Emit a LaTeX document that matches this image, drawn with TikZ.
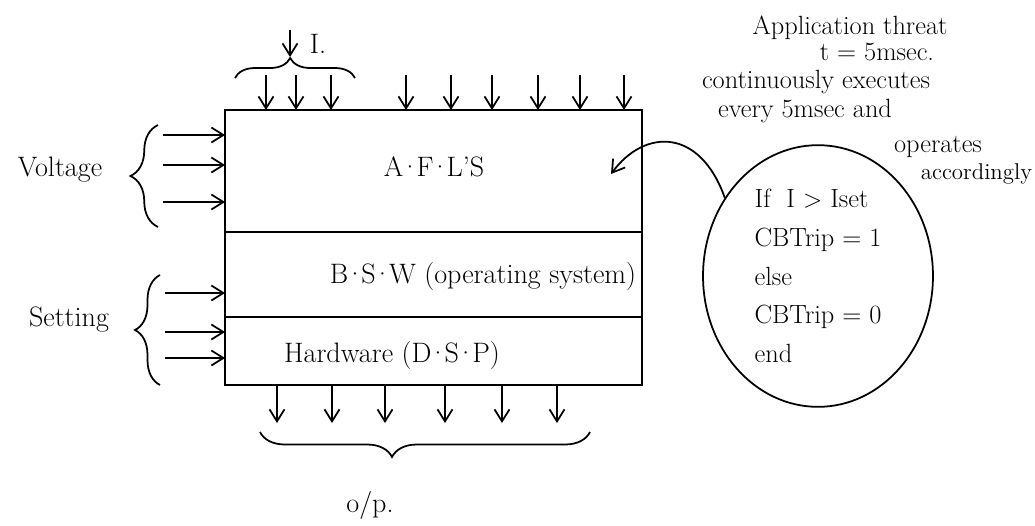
\documentclass[tikz,border=0pt]{standalone}
\usetikzlibrary{positioning,shapes.geometric,arrows.meta,decorations.pathreplacing}
\newcommand{\mdot}{\kern-2pt·\kern-2pt}
\begin{document}
\begin{tikzpicture}[x=0.02cm, y=-0.02cm, line width=1pt,
  >={Straight Barb[length=2.4mm,width=3mm]},
  hand/.style={font=\fontsize{16}{19}\selectfont, inner sep=1pt},
  note/.style={font=\fontsize{15}{18}\selectfont, inner sep=0pt, anchor=base},
  layer/.style={draw, minimum width=8.34cm, inner sep=0pt, outer sep=0pt},
  curly/.style={decorate, decoration={brace, amplitude=#1}}]
\useasboundingbox (0,0) rectangle (1035,525);

\node[layer, minimum height=2.44cm] (afl) at (433.5,171) {};
\node[layer, minimum height=1.7cm, below=0pt of afl] (bsw) {};
\node[layer, minimum height=1.36cm, below=0pt of bsw] (hw) {};
\node[hand] (afltext) at (434,167) {A\mdot F\mdot L'S};
\node[hand] (bswtext) at (483,276) {B\mdot S\mdot W (operating system)};
\node[hand] (hwtext) at (392,355) {Hardware (D\mdot S\mdot P)};

\foreach \x in {266,296,331,406,451,492,538,580,624}
  \draw[->] (\x,75) -- (\x,75 |- afl.north);
\draw[curly=0.4cm, decoration={aspect=0.46}] (235,78) -- (355,78);
\coordinate (itop) at (290,30);
\coordinate (itip) at (290,57);
\draw[->] (itop) -- (itip);
\node[hand] (ilabel) at (318,44) {I.};

\node[hand] (voltage) at (60,170) {Voltage};
\draw[curly=0.55cm] (158,227) -- (158,125);
\foreach \y in {135,165,202}
  \draw[->] (163,\y) -- (163,\y -| afl.west);

\node[hand] (setting) at (69,320) {Setting};
\draw[curly=0.5cm] (160,385) -- (160,275);
\foreach \y in {293,332,358}
  \draw[->] (165,\y) -- (165,\y -| hw.west);

\foreach \x in {277,332,385,445,502,557}
  \draw[->] (\x,0 |- hw.south) -- (\x,423);
\draw[curly=0.5cm, decoration={aspect=0.6}] (590,432) -- (260,432);
\node[hand] (output) at (370,505) {o/p.};

\node[note] (apptitle) at (850,34) {Application threat};
\node[note] (period) at (877,60) {t = 5msec.};
\node[note] (contline) at (816,88) {continuously executes};
\node[note] (everyline) at (805,117) {every 5msec and};
\node[note] (operline) at (938,152) {operates};
\node[note, font=\fontsize{13}{15}\selectfont, anchor=base east] (accline) at (1033,179) {accordingly};

\node[draw, ellipse, minimum width=4.6cm, minimum height=5.08cm, align=left,
  font=\fontsize{15}{22}\selectfont] (logic) at (818,276)
  {If\ \ I $>$ Iset\\CBTrip = 1\\else\\CBTrip = 0\\end};
\coordinate (aflpt) at (611,174);
\draw[->] (logic.140) .. controls (700,128) and (645,128) .. (aflpt);
\end{tikzpicture}
\end{document}
